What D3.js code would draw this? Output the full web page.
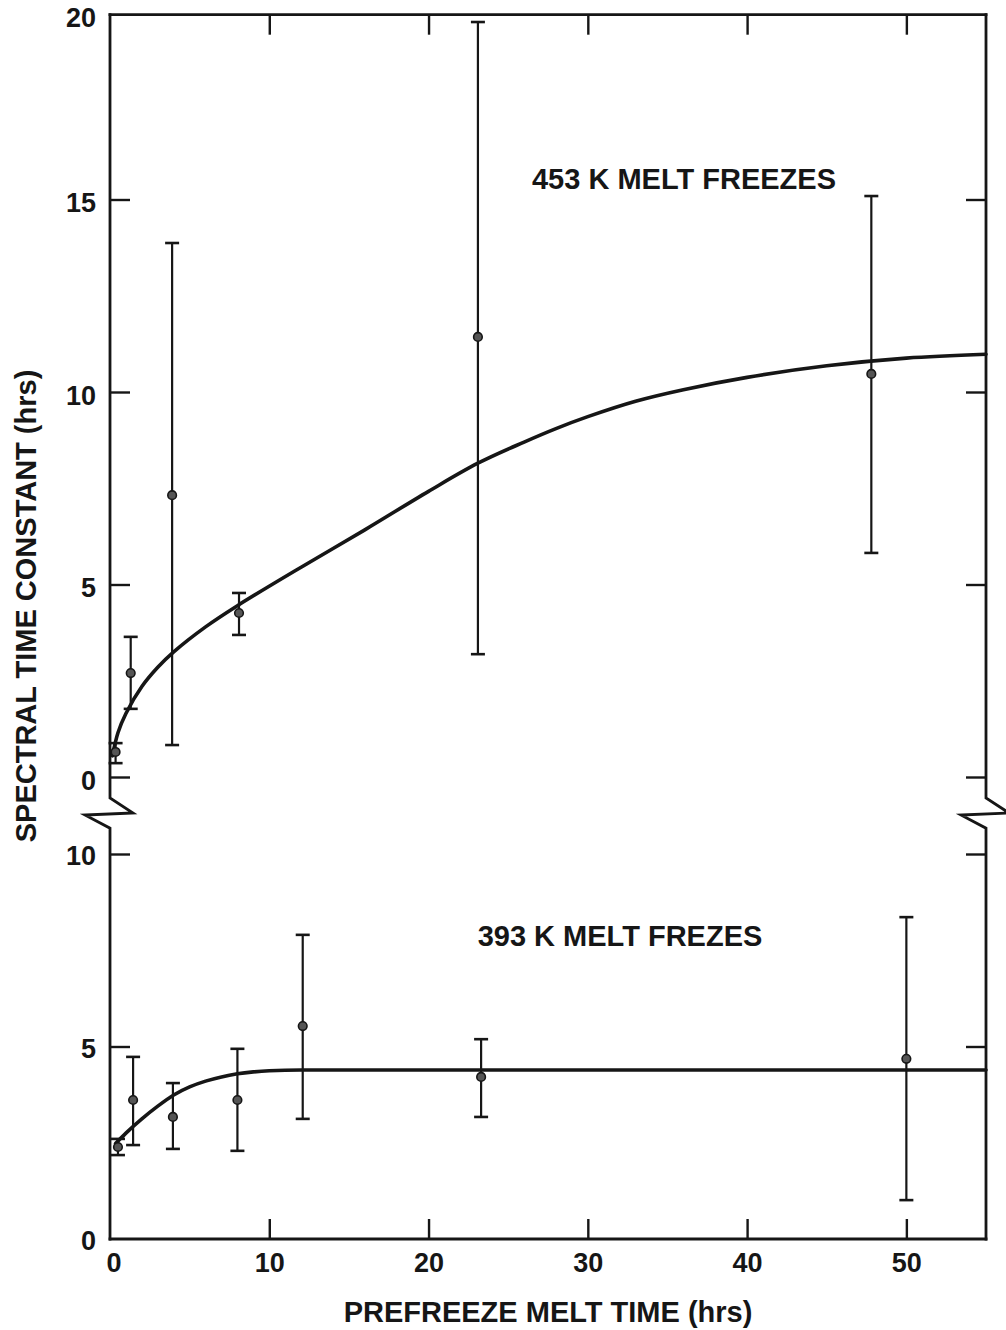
<!DOCTYPE html>
<html>
<head>
<meta charset="utf-8">
<script src="https://cdn.jsdelivr.net/npm/d3@7/dist/d3.min.js"></script>
<style>
  html, body { margin: 0; padding: 0; background: #fff; }
  svg { display: block; }
  text { font-family: "Liberation Sans", Arial, Helvetica, sans-serif; font-weight: bold; fill: #161616; }
</style>
</head>
<body>
<svg id="chart" width="1006" height="1330"></svg>
<script>
// Prefreeze melt time (hrs) vs. spectral time constant (hrs)

// 453 K melt freezes: measured points with error bars
const hot_x    = [0.35, 1.3, 3.9, 8.1, 23.1, 47.8];
const hot_y    = [0.65, 2.70, 7.32, 4.26, 11.43, 10.47];
const hot_lo   = [0.36, 1.77, 0.83, 3.69, 3.19, 5.82];
const hot_hi   = [0.88, 3.64, 13.87, 4.78, 19.61, 15.09];
// 453 K fitted curve
const hotFit_x = [0.15, 0.5, 1, 2, 3, 4, 6, 8, 12, 16, 20, 23.1, 26, 28, 30, 33, 36, 40, 45, 50, 55];
const hotFit_y = [0.55, 1.15, 1.65, 2.35, 2.85, 3.25, 3.9, 4.45, 5.45, 6.42, 7.42, 8.15, 8.7, 9.05, 9.36, 9.76, 10.06, 10.38, 10.68, 10.88, 10.98];

// 393 K melt freezes: measured points with error bars
const cold_x    = [0.5, 1.45, 3.95, 8.0, 12.1, 23.3, 50.0];
const cold_y    = [2.39, 3.61, 3.17, 3.61, 5.53, 4.21, 4.68];
const cold_lo   = [2.18, 2.44, 2.34, 2.29, 3.12, 3.17, 1.01];
const cold_hi   = [2.60, 4.73, 4.05, 4.94, 7.90, 5.19, 8.36];
// 393 K fitted curve
const coldFit_x = [0.35, 1, 2, 3, 4, 5, 6, 7, 8, 9, 10, 12, 55];
const coldFit_y = [2.48, 2.75, 3.12, 3.45, 3.74, 3.95, 4.1, 4.21, 4.29, 4.34, 4.37, 4.39, 4.39];

// Tick labels
const xTicks      = [0, 10, 20, 30, 40, 50];
const yTicksUpper = [0, 5, 10, 15, 20];
const yTicksLower = [0, 5, 10];

const panelLabels = ["453 K MELT FREEZES", "393 K MELT FREZES"];
const xTitle = "PREFREEZE MELT TIME (hrs)";
const yTitle = "SPECTRAL TIME CONSTANT (hrs)";

// ---- layout ----
const L = 110, R = 986;
const upperTopValue = 19.8;     // frame top of the upper panel
const lowerTopValue = 10.67;    // where the lower panel axis resumes after the break

const svg = d3.select("#chart");
const ink = "#161616";

const x  = d3.scaleLinear().domain([0, 55]).range([L, R]);
const yU = d3.scaleLinear().domain([0, 10]).range([777, 392]);
const yB = d3.scaleLinear().domain([0, 10]).range([1239, 854]);

const topY = yU(upperTopValue);
const bottomY = yB(0);
const upperEnd = yU(0) + 21;          // axis stops just below upper zero
const lowerStart = yB(lowerTopValue); // axis resumes here

// ---- frame ----
const frame = svg.append("g")
  .attr("fill", "none").attr("stroke", ink).attr("stroke-width", 2.8)
  .attr("stroke-linejoin", "miter").attr("stroke-linecap", "square");

// top and bottom edges
frame.append("line").attr("x1", L).attr("x2", R).attr("y1", topY).attr("y2", topY);
frame.append("line").attr("x1", L).attr("x2", R).attr("y1", bottomY).attr("y2", bottomY);

// side edges with the axis-break zigzag
function sideWithBreak(ax) {
  const p = d3.path();
  p.moveTo(ax, topY);
  p.lineTo(ax, upperEnd);
  p.lineTo(ax + 23, upperEnd + 15);
  p.lineTo(ax - 25, upperEnd + 17);
  p.lineTo(ax, lowerStart);
  p.lineTo(ax, bottomY);
  return p.toString();
}
frame.append("path").attr("d", sideWithBreak(L));
frame.append("path").attr("d", sideWithBreak(R));

// ---- axes (inward ticks) ----
function styleAxis(g) {
  g.select(".domain").remove();
  g.selectAll(".tick line").attr("stroke", ink).attr("stroke-width", 2.4);
  g.selectAll(".tick text").attr("fill", ink).style("font-size", "27px")
    .style("font-family", "'Liberation Sans', Arial, sans-serif").style("font-weight", "bold");
}

// bottom x-axis with labels
svg.append("g").attr("transform", `translate(0,${bottomY})`)
  .call(d3.axisBottom(x).tickValues(xTicks.filter(v => v > 0)).tickSizeInner(-20).tickSizeOuter(0).tickPadding(14).tickFormat(d3.format("d")))
  .call(styleAxis);
// "0" label under the corner
svg.append("text").attr("x", x(0) + 4).attr("y", bottomY + 33)
  .attr("text-anchor", "middle").style("font-size", "27px").text(xTicks[0]);

// top x-axis, ticks only
svg.append("g").attr("transform", `translate(0,${topY})`)
  .call(d3.axisTop(x).tickValues(xTicks.filter(v => v > 0)).tickSizeInner(-20).tickSizeOuter(0).tickFormat(""))
  .call(styleAxis);

// left axes with labels
svg.append("g").attr("transform", `translate(${L},0)`)
  .call(d3.axisLeft(yU).tickValues(yTicksUpper.filter(v => v < 20)).tickSizeInner(-20).tickSizeOuter(0).tickPadding(14))
  .call(styleAxis)
  .selectAll(".tick text").attr("dy", "0.46em");
// "20" sits at the top corner of the frame
svg.append("text").attr("x", L - 14).attr("y", Math.max(yU(20), topY)).attr("dy", "0.46em")
  .attr("text-anchor", "end").style("font-size", "27px").text(yTicksUpper[4]);

svg.append("g").attr("transform", `translate(${L},0)`)
  .call(d3.axisLeft(yB).tickValues(yTicksLower).tickSizeInner(-20).tickSizeOuter(0).tickPadding(14))
  .call(styleAxis)
  .call(g => g.selectAll(".tick").filter(d => d === 0).select("line").remove())
  .selectAll(".tick text").attr("dy", "0.40em");

// right axes, ticks only
svg.append("g").attr("transform", `translate(${R},0)`)
  .call(d3.axisRight(yU).tickValues([0, 5, 10, 15]).tickSizeInner(-20).tickSizeOuter(0).tickFormat(""))
  .call(styleAxis);
svg.append("g").attr("transform", `translate(${R},0)`)
  .call(d3.axisRight(yB).tickValues([5, 10]).tickSizeInner(-20).tickSizeOuter(0).tickFormat(""))
  .call(styleAxis);

// ---- data marks ----
function drawSeries(ys, px, py, lo, hi, fx, fy, curve) {
  const g = svg.append("g");
  const line = d3.line().x(d => x(d[0])).y(d => ys(d[1])).curve(curve);
  g.append("path").datum(d3.zip(fx, fy))
    .attr("d", line).attr("fill", "none").attr("stroke", ink)
    .attr("stroke-width", 3.6).attr("stroke-linecap", "round");

  const pts = px.map((v, i) => ({ x: v, y: py[i], lo: lo[i], hi: hi[i] }));
  const cap = 7;
  const eb = g.selectAll("g.eb").data(pts).join("g").attr("class", "eb")
    .attr("stroke", ink).attr("stroke-width", 2.2);
  eb.append("line").attr("x1", d => x(d.x)).attr("x2", d => x(d.x))
    .attr("y1", d => ys(d.lo)).attr("y2", d => ys(d.hi));
  eb.append("line").attr("x1", d => x(d.x) - cap).attr("x2", d => x(d.x) + cap)
    .attr("y1", d => ys(d.lo)).attr("y2", d => ys(d.lo)).attr("stroke-width", 2.6);
  eb.append("line").attr("x1", d => x(d.x) - cap).attr("x2", d => x(d.x) + cap)
    .attr("y1", d => ys(d.hi)).attr("y2", d => ys(d.hi)).attr("stroke-width", 2.6);
  g.selectAll("circle").data(pts).join("circle")
    .attr("cx", d => x(d.x)).attr("cy", d => ys(d.y)).attr("r", 4.3)
    .attr("fill", "#555").attr("stroke", ink).attr("stroke-width", 1.6);
}

drawSeries(yU, hot_x, hot_y, hot_lo, hot_hi, hotFit_x, hotFit_y, d3.curveCatmullRom.alpha(0.5));
drawSeries(yB, cold_x, cold_y, cold_lo, cold_hi, coldFit_x, coldFit_y, d3.curveMonotoneX);

// ---- titles and panel labels ----
svg.append("text").attr("x", 548).attr("y", 1322).attr("text-anchor", "middle")
  .style("font-size", "29px").text(xTitle);

svg.append("text").attr("transform", "translate(36,606) rotate(-90)")
  .attr("text-anchor", "middle").style("font-size", "29px").text(yTitle);

svg.append("text").attr("x", 684).attr("y", 189).attr("text-anchor", "middle")
  .style("font-size", "29px").text(panelLabels[0]);
svg.append("text").attr("x", 620).attr("y", 946).attr("text-anchor", "middle")
  .style("font-size", "29px").text(panelLabels[1]);
</script>
</body>
</html>
